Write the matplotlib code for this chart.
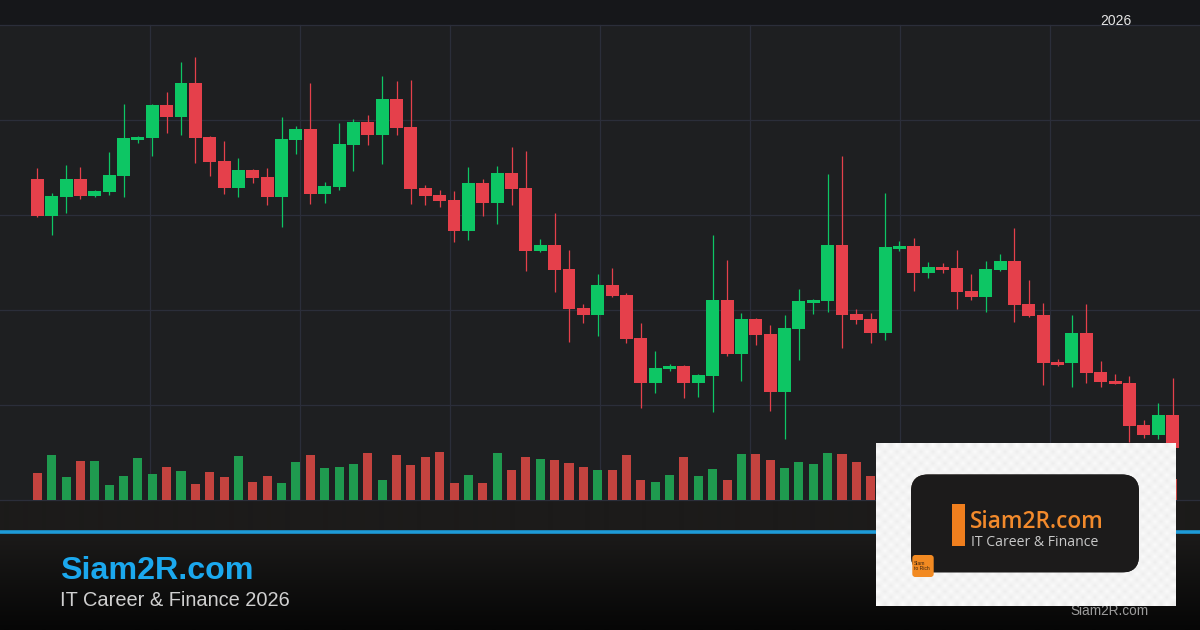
import numpy as np
import matplotlib.pyplot as plt
from matplotlib.patches import Rectangle, FancyBboxPatch

plt.rcParams['font.family'] = ['Liberation Sans', 'DejaVu Sans']

# price data (chart units), one candle per session
opens = [321, 284, 303, 321, 304, 308, 324, 360, 362, 395,
         383, 417, 363, 339, 312, 330, 323, 303, 360, 371,
         306, 313, 355, 378, 365, 401, 373, 312, 305, 300,
         269, 317, 297, 327, 312, 249, 255, 231, 192, 185,
         215, 205, 162, 117, 131, 134, 117, 124, 200, 146,
         181, 166, 108, 171, 197, 199, 255, 186, 181, 167,
         251, 254, 227, 233, 232, 209, 203, 230, 239, 196,
         185, 138, 137, 167, 128, 119, 117, 75, 65, 85]
closes = [284, 304, 321, 304, 309, 325, 362, 363, 395, 383,
          417, 362, 338, 312, 330, 322, 303, 361, 371, 306,
          314, 356, 378, 365, 401, 372, 311, 304, 299, 269,
          317, 297, 327, 311, 249, 255, 230, 191, 185, 215,
          204, 161, 117, 132, 134, 117, 125, 200, 146, 181,
          165, 108, 172, 199, 200, 255, 185, 180, 167, 253,
          254, 227, 233, 230, 208, 203, 231, 239, 195, 184,
          137, 135, 167, 127, 118, 116, 74, 65, 85, 52]
highs = [332, 307, 335, 333, 310, 348, 396, 364, 396, 408,
         438, 443, 364, 359, 342, 331, 332, 383, 374, 417,
         318, 377, 381, 385, 424, 419, 420, 315, 310, 309,
         333, 321, 334, 353, 349, 261, 287, 250, 196, 226,
         232, 207, 177, 149, 136, 135, 126, 265, 240, 187,
         182, 175, 185, 211, 201, 326, 344, 191, 187, 307,
         259, 262, 238, 237, 250, 226, 239, 246, 272, 220,
         197, 141, 185, 196, 139, 126, 124, 80, 97, 122]
lows = [283, 265, 287, 301, 303, 305, 303, 357, 344, 367,
        365, 337, 324, 306, 303, 317, 295, 273, 346, 296,
        297, 310, 329, 355, 336, 365, 296, 295, 293, 258,
        260, 284, 276, 295, 229, 248, 208, 158, 177, 164,
        203, 157, 92, 107, 129, 102, 103, 88, 144, 119,
        155, 89, 61, 140, 186, 188, 152, 176, 157, 160,
        249, 209, 222, 227, 191, 200, 188, 229, 178, 183,
        115, 134, 113, 117, 113, 116, 58, 62, 61, 45]
volumes = [27, 45, 23, 39, 39, 15, 24, 42, 26, 33,
           29, 16, 28, 23, 44, 18, 24, 17, 38, 45,
           32, 33, 36, 47, 20, 45, 35, 43, 48, 17,
           25, 17, 47, 30, 43, 41, 40, 37, 33, 30,
           30, 45, 20, 18, 25, 43, 24, 31, 20, 46,
           46, 40, 32, 38, 36, 47, 46, 38, 24, 44,
           22, 35, 28, 19, 31, 26, 38, 30, 41, 27,
           36, 21, 33, 29, 25, 42, 24, 34, 30, 21]

W, H = 1200, 630
fig = plt.figure(figsize=(12, 6.3), dpi=100)
fig.patch.set_facecolor('#1e1f21')

# ---- background layer, pixel coords ----
bg = fig.add_axes([0, 0, 1, 1], zorder=0)
bg.axis('off')
bg.add_patch(Rectangle((0, 0), W, 25, color='#16171a', lw=0))
bg.add_patch(Rectangle((0, 25), W, 475, color='#1e1f21', lw=0))
# footer gradient
foot = np.linspace(0, 1, 130)[:, None]
top_c = np.array([0x1c, 0x1b, 0x1a]) / 255
bot_c = np.array([0x06, 0x06, 0x06]) / 255
rows = np.where(foot < 0.24, 0, (foot - 0.24) / 0.76)
grad = (top_c * (1 - rows) + bot_c * rows)[:, None, :]
bg.imshow(grad, extent=(0, W, 630, 500), aspect='auto', interpolation='bilinear')
for y in [25, 120, 215, 310, 405, 500]:
    bg.plot([0, W], [y, y], color='#2b2e3a', lw=0.9)
for x in range(150, W, 150):
    bg.plot([x, x], [25, 500], color='#2b2e3a', lw=0.9)
bg.plot([0, W], [532, 532], color='#1e9bd8', lw=2.6)

bg.text(1100, 25, '2026', color='#e6e6e6', fontsize=10, va='baseline')
bg.text(60, 579, 'Siam2R.com', color='#1ba8ee', fontsize=23.2,
        fontweight='bold', va='baseline')
bg.text(60, 606.5, 'IT Career & Finance 2026', color='#d0d0d0',
        fontsize=14.4, va='baseline')
bg.text(1070, 615, 'Siam2R.com', color='#9c9c9c', fontsize=9.8, va='baseline')
bg.set_xlim(0, W)
bg.set_ylim(H, 0)

# ---- candles and volume ----
ax = fig.add_axes([0, 0, 1, 1], zorder=1)
ax.patch.set_alpha(0)
ax.axis('off')
o = np.array(opens)
c = np.array(closes)
idx = np.arange(len(o))
up = c >= o
body_col = np.where(up, '#0dc664', '#e5404b')
vol_col = np.where(up, '#1f9a4f', '#c4433f')
ax.vlines(idx, lows, highs, colors=body_col, lw=0.9)
ax.bar(idx, np.maximum(np.abs(c - o), 2), bottom=np.minimum(o, c),
       width=0.9, color=body_col, lw=0)
ax.bar(idx, volumes, width=0.63, color=vol_col, lw=0)
x0_px, dx_px = 37.3, 14.37
ax.set_xlim(-x0_px / dx_px, (W - x0_px) / dx_px)
ax.set_ylim(500 - H, 500)

# ---- logo overlay ----
ov = fig.add_axes([0, 0, 1, 1], zorder=2)
ov.patch.set_alpha(0)
ov.axis('off')
cy, cx = np.indices((28, 50))
chk = ((cy + cx) % 2)[:, :, None]
checker = np.where(chk == 1, 0.985, 0.93) * np.ones(3)
ov.imshow(checker, extent=(876, 1176, 606, 443), aspect='auto',
          interpolation='bilinear')
card = FancyBboxPatch((911, 474.5), 228, 98,
                      boxstyle='round,pad=0,rounding_size=17',
                      fc='#1c1b1b', ec='none')
ov.add_patch(card)
gx = np.linspace(0, 1, 200)[None, :]
left_c = np.array([0x34, 0x26, 0x1d]) / 255
right_c = np.array([0x19, 0x19, 0x1a]) / 255
t = np.clip(gx / 0.7, 0, 1)
card_grad = (left_c * (1 - t[..., None]) + right_c * t[..., None])
card_grad = np.repeat(card_grad, 10, axis=0)
im = ov.imshow(card_grad, extent=(911, 1139, 572.5, 474.5), aspect='auto',
               interpolation='bilinear')
im.set_clip_path(card)
ov.add_patch(Rectangle((952.3, 504), 12.7, 41.7, fc='#f07f1e', lw=0))
ov.text(970, 528, 'Siam2R.com', color='#f28a2c', fontsize=16.3,
        family=['Open Sans', 'DejaVu Sans'], fontweight='semibold',
        va='baseline')
ov.text(971, 545.7, 'IT Career & Finance', color='#c9c9c9', fontsize=10.1,
        family=['Open Sans', 'DejaVu Sans'], va='baseline')
ov.add_patch(FancyBboxPatch((912.3, 555), 21.4, 22,
                            boxstyle='round,pad=0,rounding_size=3',
                            fc='#f28a22', ec='none'))
ov.text(913.5, 566, 'Siam\nto Rich', color='#3b2412', fontsize=3.6,
        va='center', linespacing=1.1)
ov.set_xlim(0, W)
ov.set_ylim(H, 0)

fig.savefig('out.png', dpi=100, facecolor=fig.get_facecolor())
